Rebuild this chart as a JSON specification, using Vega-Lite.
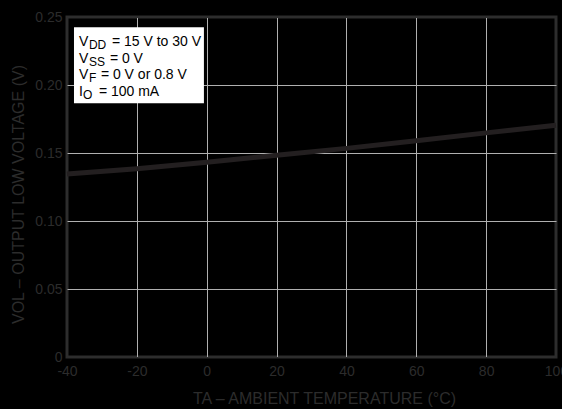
{
  "$schema": "https://vega.github.io/schema/vega-lite/v6.json",
  "width": 489,
  "height": 340,
  "autosize": {"type": "none"},
  "padding": {"left": 67, "top": 17, "right": 6, "bottom": 52},
  "background": "black",
  "config": {
    "view": {"fill": "black", "stroke": "#2d2d2d", "strokeWidth": 3},
    "font": "Liberation Sans"
  },
  "datasets": {
    "curve": [
      {"temp": -40, "vol": 0.1345},
      {"temp": -20, "vol": 0.1385},
      {"temp": 0, "vol": 0.1432},
      {"temp": 20, "vol": 0.1484},
      {"temp": 40, "vol": 0.1534},
      {"temp": 60, "vol": 0.1590},
      {"temp": 80, "vol": 0.1648},
      {"temp": 100, "vol": 0.1704}
    ],
    "legend": [
      {"row": 1, "sym": "V", "sub": "DD", "rest": "= 15 V to 30 V"},
      {"row": 2, "sym": "V", "sub": "SS", "rest": "= 0 V"},
      {"row": 3, "sym": "V", "sub": "F", "rest": "= 0 V or 0.8 V"},
      {"row": 4, "sym": "I", "sub": "O", "rest": "= 100 mA"}
    ]
  },
  "layer": [
    {
      "data": {"name": "curve"},
      "mark": {"type": "line", "color": "#231f20", "strokeWidth": 5},
      "encoding": {
        "x": {
          "field": "temp", "type": "quantitative",
          "scale": {"domain": [-40, 100], "nice": false, "zero": false},
          "axis": {
            "values": [-40, -20, 0, 20, 40, 60, 80, 100],
            "labelExpr": "'' + datum.value",
            "grid": true,
            "gridColor": {"condition": {"test": "datum.value == -40 || datum.value == 100", "value": "#2d2d2d"}, "value": "#b0b0b0"},
            "gridWidth": 1,
            "domain": false,
            "ticks": false,
            "labelColor": "#2c2c2c",
            "labelFontSize": 14,
            "labelPadding": 7,
            "labelFlush": false,
            "labelOverlap": false,
            "title": "TA – AMBIENT TEMPERATURE (°C)",
            "titleColor": "#2c2c2c",
            "titleFontSize": 16,
            "titleFontWeight": "normal",
            "titlePadding": 12,
            "titleX": 257
          }
        },
        "y": {
          "field": "vol", "type": "quantitative",
          "scale": {"domain": [0, 0.25], "nice": false},
          "axis": {
            "values": [0, 0.05, 0.1, 0.15, 0.2, 0.25],
            "labelExpr": "datum.value == 0 ? '0' : format(datum.value, '.2f')",
            "grid": true,
            "gridColor": {"condition": {"test": "datum.value == 0 || datum.value == 0.25", "value": "#2d2d2d"}, "value": "#b0b0b0"},
            "gridWidth": 1,
            "domain": false,
            "ticks": false,
            "labelColor": "#2c2c2c",
            "labelFontSize": 14,
            "labelPadding": 5,
            "labelFlush": false,
            "labelOverlap": false,
            "title": "VOL – OUTPUT LOW VOLTAGE (V)",
            "titleColor": "#2c2c2c",
            "titleFontSize": 16,
            "titleFontWeight": "normal",
            "titlePadding": 8,
            "titleY": 177
          }
        }
      }
    },
    {
      "data": {"values": [{"a": 1}]},
      "mark": {"type": "rect", "color": "white"},
      "encoding": {
        "x": {"datum": -38.0, "type": "quantitative"},
        "x2": {"datum": -0.8},
        "y": {"datum": 0.2424, "type": "quantitative"},
        "y2": {"datum": 0.1865}
      }
    },
    {"data": {"name": "legend"}, "transform": [{"filter": "datum.row == 1"}],
     "mark": {"type": "text", "align": "left", "baseline": "alphabetic", "fontSize": 14, "color": "black"},
     "encoding": {"x": {"datum": -36.6, "type": "quantitative"}, "y": {"datum": 0.2287, "type": "quantitative"}, "text": {"field": "sym"}}},
    {"data": {"name": "legend"}, "transform": [{"filter": "datum.row == 1"}],
     "mark": {"type": "text", "align": "left", "baseline": "alphabetic", "fontSize": 12, "color": "black", "dx": 10, "dy": 3},
     "encoding": {"x": {"datum": -36.6, "type": "quantitative"}, "y": {"datum": 0.2287, "type": "quantitative"}, "text": {"field": "sub"}}},
    {"data": {"name": "legend"}, "transform": [{"filter": "datum.row == 1"}],
     "mark": {"type": "text", "align": "left", "baseline": "alphabetic", "fontSize": 14, "color": "black", "dx": 33},
     "encoding": {"x": {"datum": -36.6, "type": "quantitative"}, "y": {"datum": 0.2287, "type": "quantitative"}, "text": {"field": "rest"}}},
    {"data": {"name": "legend"}, "transform": [{"filter": "datum.row == 2"}],
     "mark": {"type": "text", "align": "left", "baseline": "alphabetic", "fontSize": 14, "color": "black"},
     "encoding": {"x": {"datum": -36.6, "type": "quantitative"}, "y": {"datum": 0.2164, "type": "quantitative"}, "text": {"field": "sym"}}},
    {"data": {"name": "legend"}, "transform": [{"filter": "datum.row == 2"}],
     "mark": {"type": "text", "align": "left", "baseline": "alphabetic", "fontSize": 12, "color": "black", "dx": 10, "dy": 3},
     "encoding": {"x": {"datum": -36.6, "type": "quantitative"}, "y": {"datum": 0.2164, "type": "quantitative"}, "text": {"field": "sub"}}},
    {"data": {"name": "legend"}, "transform": [{"filter": "datum.row == 2"}],
     "mark": {"type": "text", "align": "left", "baseline": "alphabetic", "fontSize": 14, "color": "black", "dx": 31},
     "encoding": {"x": {"datum": -36.6, "type": "quantitative"}, "y": {"datum": 0.2164, "type": "quantitative"}, "text": {"field": "rest"}}},
    {"data": {"name": "legend"}, "transform": [{"filter": "datum.row == 3"}],
     "mark": {"type": "text", "align": "left", "baseline": "alphabetic", "fontSize": 14, "color": "black"},
     "encoding": {"x": {"datum": -36.6, "type": "quantitative"}, "y": {"datum": 0.2042, "type": "quantitative"}, "text": {"field": "sym"}}},
    {"data": {"name": "legend"}, "transform": [{"filter": "datum.row == 3"}],
     "mark": {"type": "text", "align": "left", "baseline": "alphabetic", "fontSize": 12, "color": "black", "dx": 10, "dy": 3},
     "encoding": {"x": {"datum": -36.6, "type": "quantitative"}, "y": {"datum": 0.2042, "type": "quantitative"}, "text": {"field": "sub"}}},
    {"data": {"name": "legend"}, "transform": [{"filter": "datum.row == 3"}],
     "mark": {"type": "text", "align": "left", "baseline": "alphabetic", "fontSize": 14, "color": "black", "dx": 22},
     "encoding": {"x": {"datum": -36.6, "type": "quantitative"}, "y": {"datum": 0.2042, "type": "quantitative"}, "text": {"field": "rest"}}},
    {"data": {"name": "legend"}, "transform": [{"filter": "datum.row == 4"}],
     "mark": {"type": "text", "align": "left", "baseline": "alphabetic", "fontSize": 14, "color": "black"},
     "encoding": {"x": {"datum": -36.6, "type": "quantitative"}, "y": {"datum": 0.1919, "type": "quantitative"}, "text": {"field": "sym"}}},
    {"data": {"name": "legend"}, "transform": [{"filter": "datum.row == 4"}],
     "mark": {"type": "text", "align": "left", "baseline": "alphabetic", "fontSize": 12, "color": "black", "dx": 4, "dy": 3},
     "encoding": {"x": {"datum": -36.6, "type": "quantitative"}, "y": {"datum": 0.1919, "type": "quantitative"}, "text": {"field": "sub"}}},
    {"data": {"name": "legend"}, "transform": [{"filter": "datum.row == 4"}],
     "mark": {"type": "text", "align": "left", "baseline": "alphabetic", "fontSize": 14, "color": "black", "dx": 20},
     "encoding": {"x": {"datum": -36.6, "type": "quantitative"}, "y": {"datum": 0.1919, "type": "quantitative"}, "text": {"field": "rest"}}}
  ]
}
